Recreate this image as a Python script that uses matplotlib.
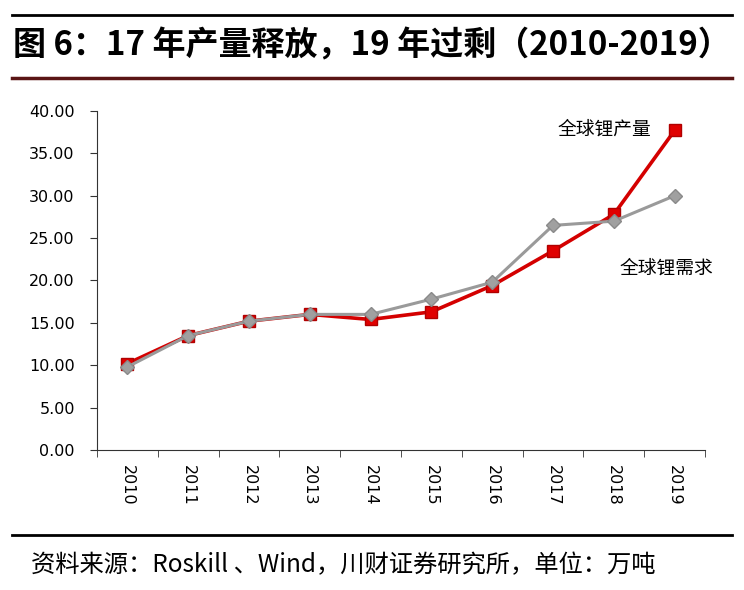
import numpy as np
import matplotlib.pyplot as plt
from matplotlib.lines import Line2D

plt.rcParams['font.family'] = ['Noto Sans CJK SC', 'DejaVu Sans']

years = ['2010', '2011', '2012', '2013', '2014', '2015', '2016', '2017', '2018', '2019']
produccion = [10.2, 13.5, 15.2, 16.0, 15.4, 16.3, 19.4, 23.5, 27.8, 37.7]
demanda = [9.8, 13.5, 15.2, 16.0, 16.0, 17.8, 19.8, 26.5, 27.0, 30.0]
yticks = [0, 5, 10, 15, 20, 25, 30, 35, 40]

fig = plt.figure(figsize=(7.44, 5.90), dpi=100)
ax = fig.add_axes([0.1304, 0.2373, 0.8172, 0.5746])

x = np.arange(len(years))
ax.plot(x, produccion, color='#d40000', lw=2.6, marker='s', ms=8,
        markerfacecolor='#e00000', markeredgecolor='#b00000', zorder=3)
ax.plot(x, demanda, color='#9a9a9a', lw=2.2, marker='D', ms=7,
        markerfacecolor='#a0a0a0', markeredgecolor='#8a8a8a', zorder=4)

ax.set_xlim(-0.5, len(years) - 0.5)
ax.set_ylim(0, 40)
ax.set_yticks(yticks)
ax.set_yticklabels([f'{v:.2f}' for v in yticks], fontsize=11.5, family=['DejaVu Sans'])
ax.set_xticks(x)
ax.set_xticklabels(years, rotation=-90, fontsize=11.5, family=['DejaVu Sans'])
ax.set_xticks(np.arange(-0.5, len(years)), minor=True)
ax.tick_params(axis='x', which='major', length=0, pad=11)
ax.tick_params(axis='x', which='minor', length=5, color='#333333')
ax.tick_params(axis='y', length=5, color='#333333', pad=11)

for s in ['top', 'right']:
    ax.spines[s].set_visible(False)
for s in ['left', 'bottom']:
    ax.spines[s].set_color('#333333')

ax.text(7.08, 37.8, '全球锂产量', fontsize=13.5, ha='left', va='center')
ax.text(8.1, 21.4, '全球锂需求', fontsize=13.5, ha='left', va='center')

# title band
fig.add_artist(Line2D([0.016, 0.984], [0.975, 0.975], color='black', lw=2))
fig.add_artist(Line2D([0.016, 0.984], [0.868, 0.868], color='#5a1515', lw=2.5))
fig.text(0.018, 0.922, '图 6：17 年产量释放，19 年过剩（2010-2019）',
         fontsize=23.8, fontweight='heavy', ha='left', va='center')

# footer
fig.add_artist(Line2D([0.016, 0.984], [0.093, 0.093], color='black', lw=2))
fig.text(0.042, 0.042, '资料来源：Roskill 、Wind，川财证券研究所，单位：万吨',
         fontsize=17.5, style='italic', ha='left', va='center')

fig.savefig('out.png', dpi=100)
